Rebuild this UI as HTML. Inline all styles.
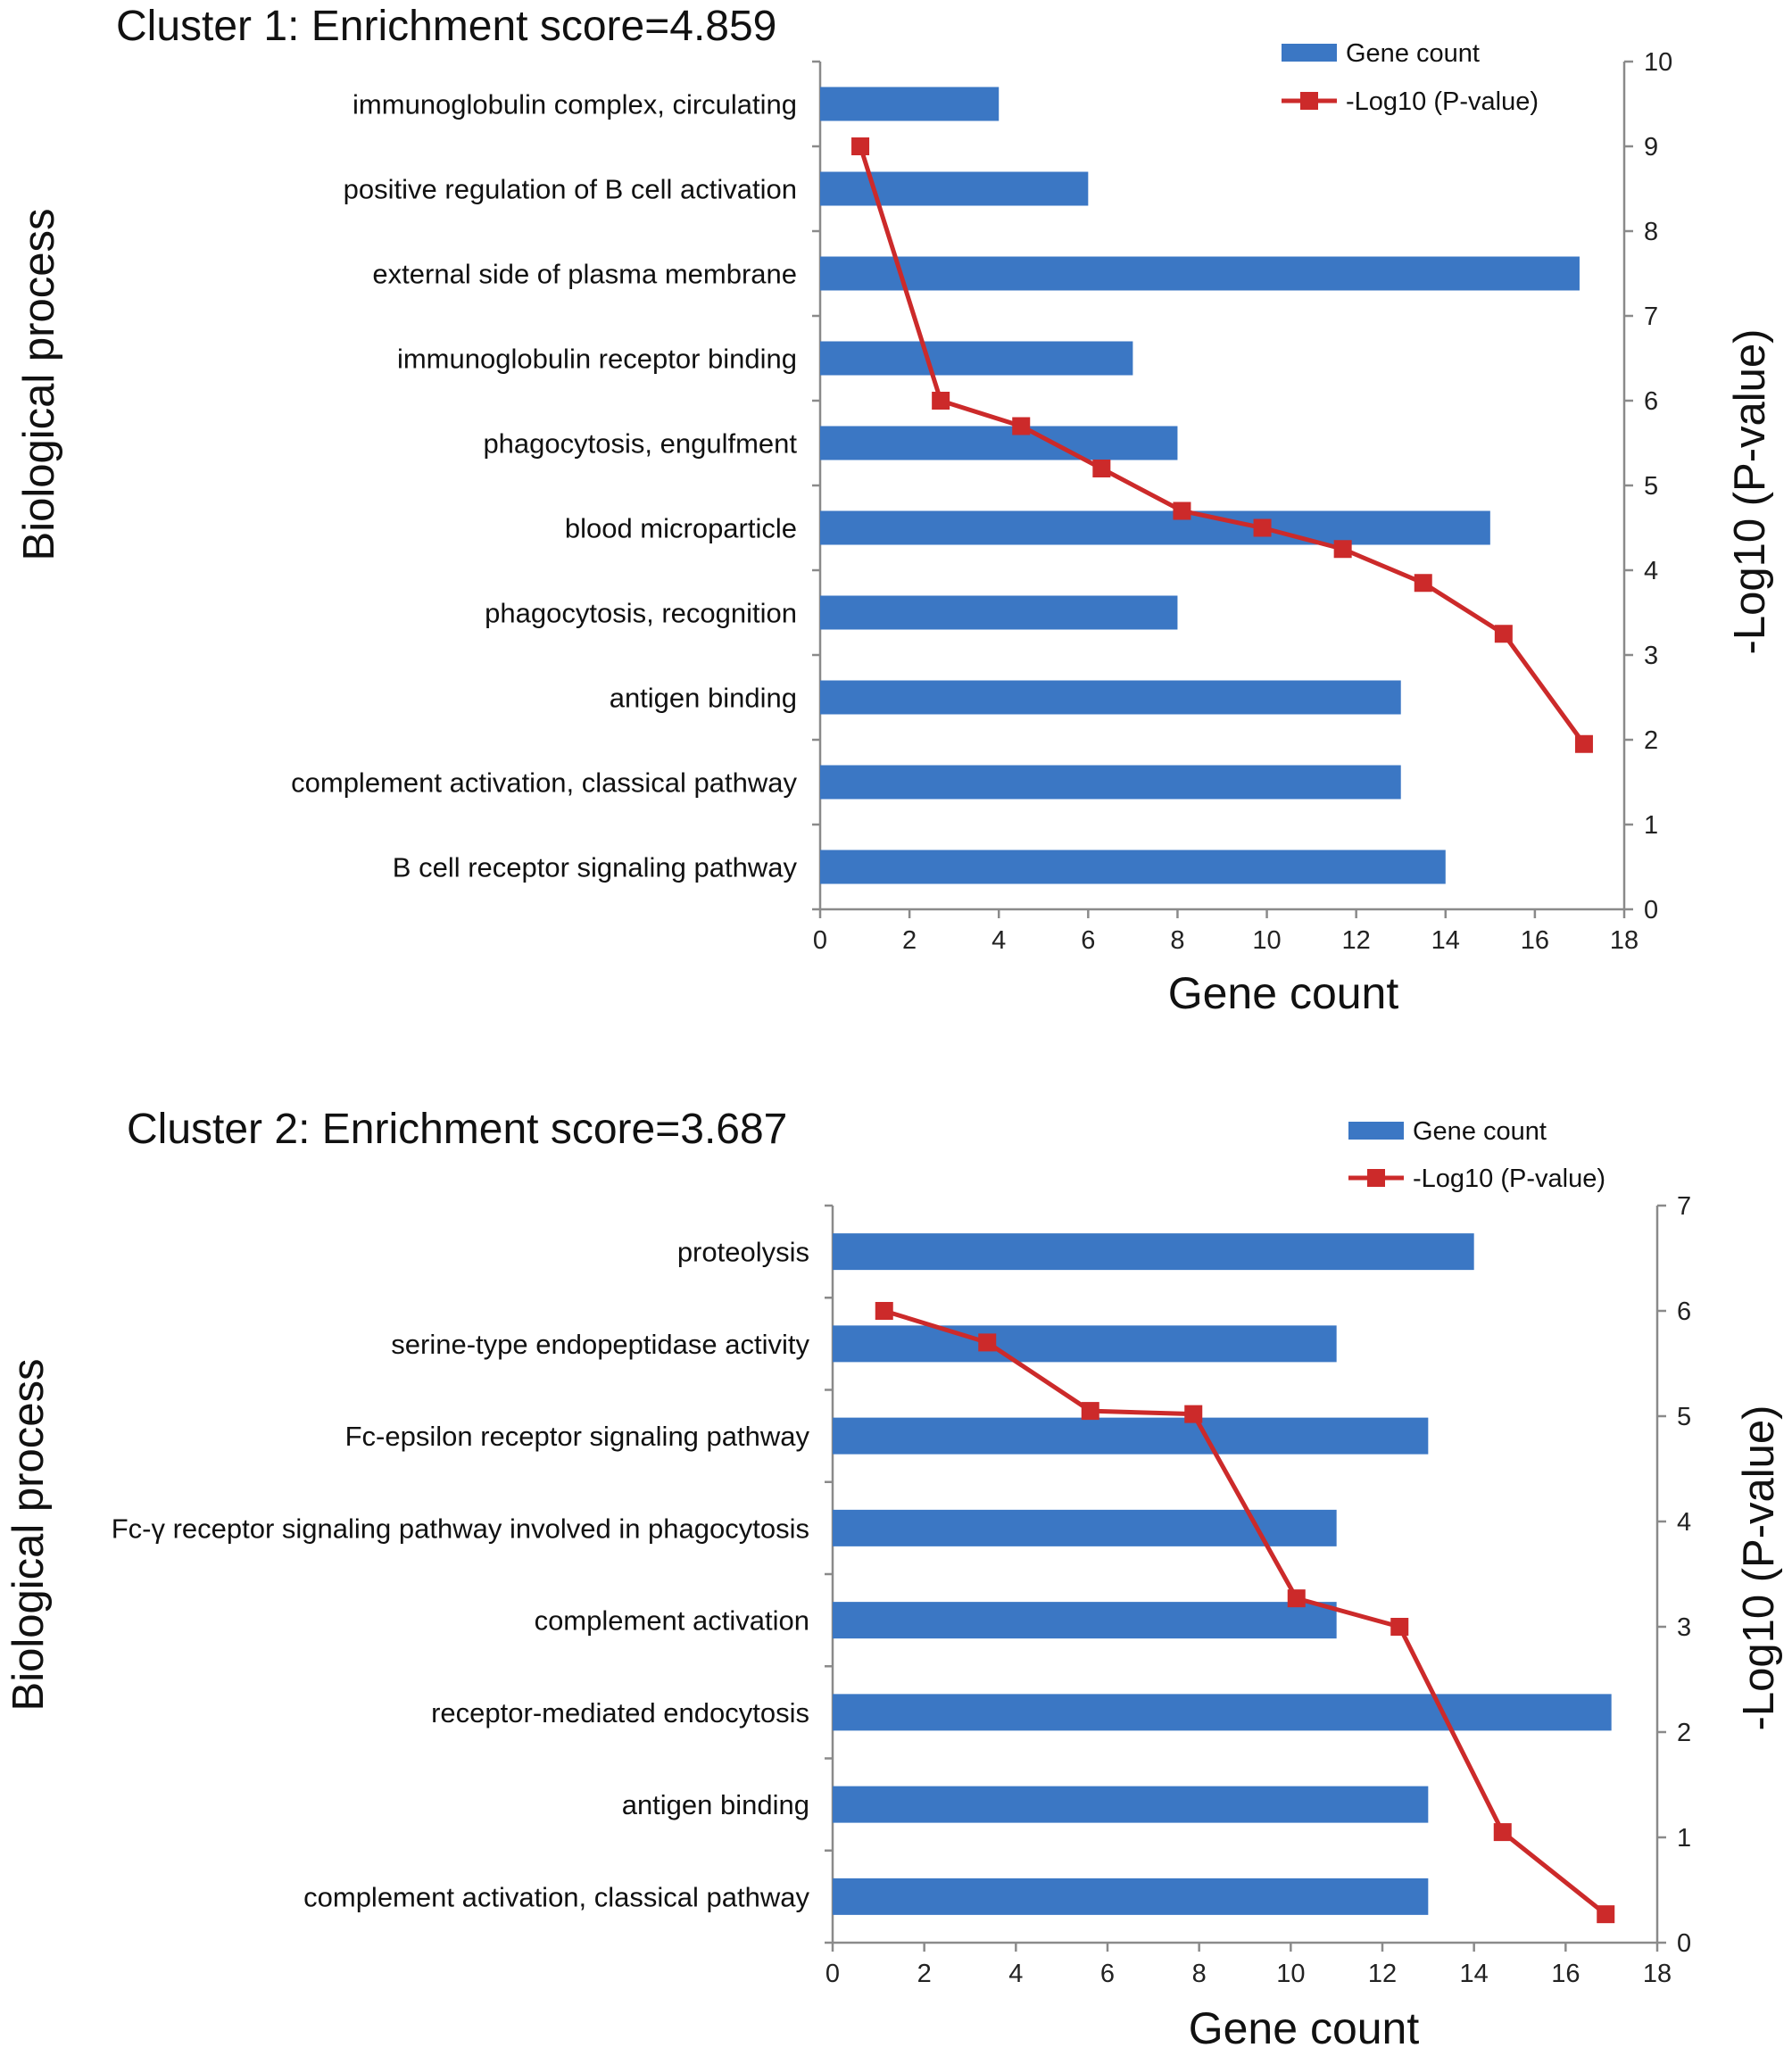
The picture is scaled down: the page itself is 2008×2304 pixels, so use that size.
<!DOCTYPE html>
<html><head><meta charset="utf-8">
<style>
html,body{margin:0;padding:0;background:#fff;}
svg{display:block;font-family:"Liberation Sans",sans-serif;}
</style></head>
<body>
<svg id="svg" width="2008" height="2304" viewBox="0 0 2008 2304" xmlns="http://www.w3.org/2000/svg">
<rect width="2008" height="2304" fill="#fff"/>
</svg>
<script>
const c1Categories = ["immunoglobulin complex, circulating","positive regulation of B cell activation","external side of plasma membrane","immunoglobulin receptor binding","phagocytosis, engulfment","blood microparticle","phagocytosis, recognition","antigen binding","complement activation, classical pathway","B cell receptor signaling pathway"];
const c1GeneCount = [4,6,17,7,8,15,8,13,13,14];
const c1LogP = [9.0,6.0,5.7,5.2,4.7,4.5,4.25,3.85,3.25,1.95];
const c2Categories = ["proteolysis","serine-type endopeptidase activity","Fc-epsilon receptor signaling pathway","Fc-\u03b3  receptor signaling pathway  involved in phagocytosis","complement activation","receptor-mediated endocytosis","antigen binding","complement activation, classical pathway"];
const c2GeneCount = [14,11,13,11,11,17,13,13];
const c2LogP = [6.0,5.7,5.05,5.02,3.27,3.0,1.05,0.27];
const xTicks = [0,2,4,6,8,10,12,14,16,18];
const c1YTicks = [0,1,2,3,4,5,6,7,8,9,10];
const c2YTicks = [0,1,2,3,4,5,6,7];

const NS="http://www.w3.org/2000/svg";
const svg=document.getElementById('svg');
function mk(tag,attrs,parent,text){
  const e=document.createElementNS(NS,tag);
  for(const k in attrs)e.setAttribute(k,attrs[k]);
  if(text!==undefined)e.textContent=text;
  (parent||svg).appendChild(e);return e;
}

function chart(o){
  const g=mk('g',{});
  
  
  const n=o.cats.length;
  const xs=v=>o.x0+(o.x1-o.x0)*v/18;
  const ys=v=>o.yb-(o.yb-o.yt)*v/o.ymax;
  const rowH=(o.yb-o.yt)/n;
  const t=mk('text',{x:o.titleX,y:o.titleY,'font-size':48,fill:'#111'},g,o.title);
  
  
  const ax={stroke:'#8a8a8a','stroke-width':2.5};
  const la=mk('line',Object.assign({x1:o.x0,y1:o.yt,x2:o.x0,y2:o.yb},ax),g);
  
  
  const ba=mk('line',Object.assign({x1:o.x0,y1:o.yb,x2:o.x1,y2:o.yb},ax),g);
  
  
  const ra=mk('line',Object.assign({x1:o.x1,y1:o.yt,x2:o.x1,y2:o.yb},ax),g);
  
  
  for(let i=0;i<=n;i++){
    const y=o.yt+rowH*i;
    mk('line',Object.assign({x1:o.x0-9,y1:y,x2:o.x0,y2:y},ax),g);
  }
  xTicks.forEach(v=>{
    const x=xs(v);
    mk('line',Object.assign({x1:x,y1:o.yb,x2:x,y2:o.yb+10},ax),g);
    const tl=mk('text',{x:x,y:o.yb+44,'font-size':29,'text-anchor':'middle',fill:'#222'},g,String(v));
    
    
  });
  o.yticks.forEach(v=>{
    const y=ys(v);
    mk('line',Object.assign({x1:o.x1,y1:y,x2:o.x1+10,y2:y},ax),g);
    const tl=mk('text',{x:o.x1+22,y:y+10,'font-size':29,fill:'#222'},g,String(v));
    
    
  });
  o.cats.forEach((c,i)=>{
    const cy=o.yt+rowH*(i+0.5);
    const b=mk('rect',{x:o.x0,y:cy-o.barH/2,width:xs(o.counts[i])-o.x0,height:o.barH,fill:'#3b77c4'},g);
    
    
    const l=mk('text',{x:o.x0-26,y:cy+11,'font-size':31,'text-anchor':'end',fill:'#111'},g,c);
    
    
  });
  const pts=o.logp.map((v,i)=>[xs((i+0.5)*18/n),ys(v)]);
  const pl=mk('polyline',{points:pts.map(p=>p.join(',')).join(' '),fill:'none',stroke:'#cc2a2a','stroke-width':5},g);
  
  
  pts.forEach(p=>{
    const m=mk('rect',{x:p[0]-10,y:p[1]-10,width:20,height:20,fill:'#cc2a2a'},g);
    
    
  });
  const lg=mk('g',{},g);
  
  
  mk('rect',{x:o.legX,y:o.legY1-10,width:62,height:20,fill:'#3b77c4'},lg);
  mk('text',{x:o.legX+72,y:o.legY1+10,'font-size':29,fill:'#111'},lg,'Gene count');
  mk('line',{x1:o.legX,y1:o.legY2,x2:o.legX+62,y2:o.legY2,stroke:'#cc2a2a','stroke-width':5},lg);
  mk('rect',{x:o.legX+21,y:o.legY2-10,width:20,height:20,fill:'#cc2a2a'},lg);
  mk('text',{x:o.legX+72,y:o.legY2+10,'font-size':29,fill:'#111'},lg,'-Log10 (P-value)');
  const xt=mk('text',{x:o.xtX,y:o.xtY,'font-size':50,'text-anchor':'middle',fill:'#111'},g,'Gene count');
  
  
  const yl=mk('text',{x:0,y:0,'font-size':49,'text-anchor':'middle',fill:'#111',transform:`translate(${o.ylX},${o.ylY}) rotate(-90)`},g,'Biological process');
  
  
  const yr=mk('text',{x:0,y:0,'font-size':49,'text-anchor':'middle',fill:'#111',transform:`translate(${o.yrX},${o.yrY}) rotate(-90)`},g,'-Log10 (P-value)');
  
  
}

chart({name:'cluster-1-chart',cats:c1Categories,counts:c1GeneCount,logp:c1LogP,yticks:c1YTicks,ymax:10,
  x0:919,x1:1820,yt:69,yb:1019,barH:38,title:'Cluster 1: Enrichment score=4.859',titleX:130,titleY:45,
  legX:1436,legY1:59,legY2:113,xtX:1438,xtY:1130,ylX:60,ylY:431,yrX:1977,yrY:551});
chart({name:'cluster-2-chart',cats:c2Categories,counts:c2GeneCount,logp:c2LogP,yticks:c2YTicks,ymax:7,
  x0:933,x1:1857,yt:1351,yb:2177,barH:41,title:'Cluster 2: Enrichment score=3.687',titleX:142,titleY:1281,
  legX:1511,legY1:1267,legY2:1320,xtX:1461,xtY:2290,ylX:48,ylY:1720,yrX:1987,yrY:1757});
</script>
</body></html>
